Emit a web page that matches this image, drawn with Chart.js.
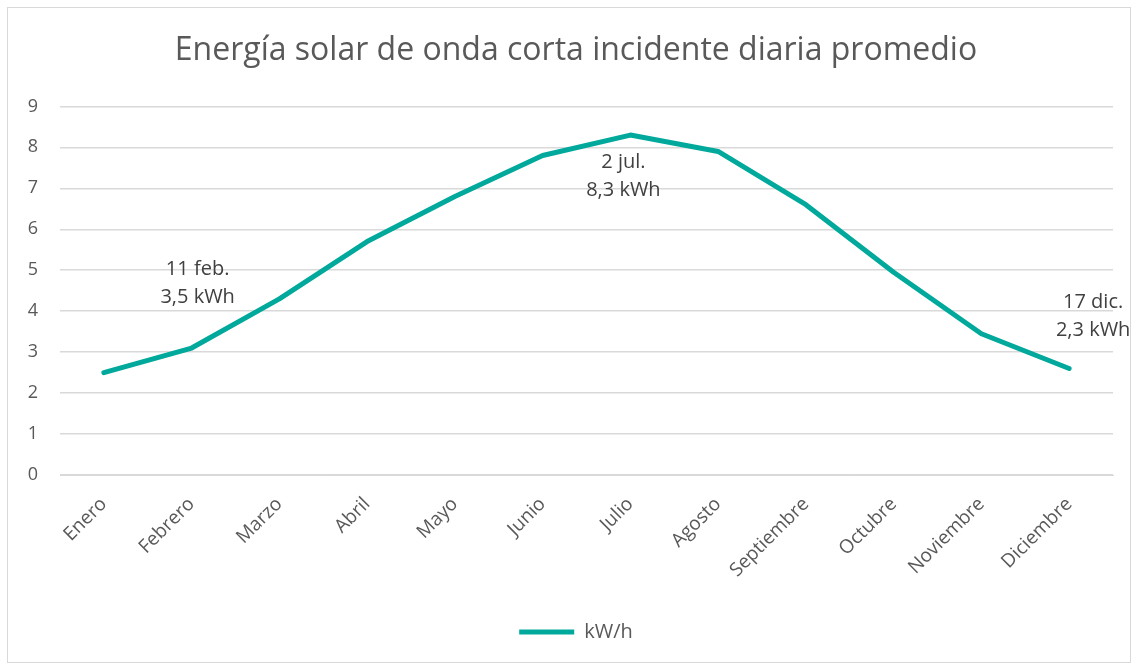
<!DOCTYPE html>
<html>
<head>
<meta charset="utf-8">
<script src="https://cdn.jsdelivr.net/npm/chart.js@4/dist/chart.umd.min.js"></script>
<style>
    html, body { margin: 0; padding: 0; background: #fff; }
    #marco {
        position: absolute;
        left: 7px; top: 7px;
        width: 1122px; height: 654px;
        border: 1px solid #d9d9d9;
    }
    canvas { display: block; }
</style>
</head>
<body>
<div id="marco"><canvas id="solarChart" width="1122" height="654"></canvas></div>
<script>
// Datos del gráfico
const meses = ['Enero', 'Febrero', 'Marzo', 'Abril', 'Mayo', 'Junio',
               'Julio', 'Agosto', 'Septiembre', 'Octubre', 'Noviembre', 'Diciembre'];
const energia = [2.5, 3.1, 4.3, 5.7, 6.8, 7.8, 8.3, 7.9, 6.6, 4.95, 3.45, 2.6];
const ticksY = [0, 1, 2, 3, 4, 5, 6, 7, 8, 9];

// Etiquetas de los valores destacados
const notasTexto = [
    ['11 feb.', '3,5 kWh'],
    ['2 jul.', '8,3 kWh'],
    ['17 dic.', '2,3 kWh']
];
const notasMes = ['Febrero', 'Julio', 'Diciembre'];

const gris = '#595959';
const verde = '#00A99B';

/**
 * Dibuja las etiquetas de texto junto a la curva
 */
const notasPlugin = {
    id: 'notas',
    afterDatasetsDraw(chart, args, opts) {
        const { ctx, scales: { x, y } } = chart;
        ctx.save();
        ctx.font = '20px "Open Sans"';
        ctx.fillStyle = '#404040';
        ctx.textAlign = 'center';
        ctx.textBaseline = 'middle';
        notasTexto.forEach((lineas, i) => {
            const ancla = opts.anclas[i];
            const px = x.getPixelForValue(meses.indexOf(notasMes[i])) + ancla.dx;
            const py = y.getPixelForValue(ancla.valor);
            ctx.fillText(lineas[0], px, py - 14);
            ctx.fillText(lineas[1], px, py + 14);
        });
        ctx.restore();
    }
};

const ctx = document.getElementById('solarChart').getContext('2d');

new Chart(ctx, {
    type: 'line',
    data: {
        labels: meses,
        datasets: [{
            label: 'kW/h',
            data: energia,
            borderColor: verde,
            backgroundColor: verde,
            borderWidth: 5,
            borderCapStyle: 'round',
            borderJoinStyle: 'round',
            pointRadius: 0,
            tension: 0,
            fill: false
        }]
    },
    options: {
        responsive: false,
        animation: false,
        layout: { padding: { left: 14, right: 0, top: 0, bottom: 10 } },
        plugins: {
            title: {
                display: true,
                text: 'Energía solar de onda corta incidente diaria promedio',
                color: gris,
                font: { family: 'Open Sans', size: 32, weight: 'normal', lineHeight: 1.2 },
                padding: { top: 24, bottom: 36 }
            },
            legend: {
                position: 'bottom',
                labels: {
                    color: gris,
                    font: { family: 'Open Sans', size: 20 },
                    usePointStyle: true,
                    pointStyle: 'line',
                    pointStyleWidth: 55,
                    padding: 8
                }
            },
            tooltip: { enabled: false },
            notas: {
                anclas: [
                    { dx: 6, valor: 4.68 },
                    { dx: -7, valor: 7.29 },
                    { dx: 24, valor: 3.88 }
                ]
            }
        },
        scales: {
            x: {
                offset: true,
                grid: { display: false, drawTicks: false },
                border: { display: true, color: '#d9d9d9' },
                ticks: {
                    color: gris,
                    font: { family: 'Open Sans', size: 19 },
                    maxRotation: 45,
                    minRotation: 45,
                    padding: 18
                },
                afterFit(scale) { scale.height = 139; }
            },
            y: {
                min: 0,
                max: 9,
                afterBuildTicks(scale) {
                    scale.ticks = ticksY.map(v => ({ value: v }));
                },
                grid: { color: '#d9d9d9', lineWidth: 1.5, drawTicks: false },
                border: { display: false },
                ticks: {
                    color: gris,
                    font: { family: 'Open Sans', size: 18 },
                    padding: 22
                },
                afterFit(scale) { scale.width = 38; }
            },
            // margen derecho vacío, como en el original
            margen: {
                type: 'linear',
                position: 'right',
                grid: { display: false, drawTicks: false },
                border: { display: false },
                ticks: { display: false },
                afterFit(scale) { scale.width = 17; }
            }
        }
    },
    plugins: [notasPlugin]
});
</script>
</body>
</html>
